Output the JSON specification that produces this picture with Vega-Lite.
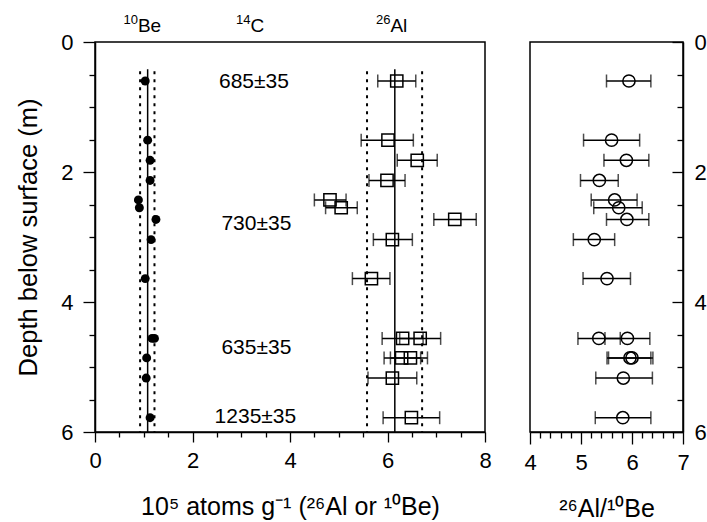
{
  "$schema": "https://vega.github.io/schema/vega-lite/v6.json",
  "padding": {"left": 16, "top": 13, "right": 0, "bottom": 0},
  "background": "white",
  "spacing": 31,
  "config": {
    "font": "Liberation Sans",
    "view": {"stroke": "black", "strokeWidth": 1.5},
    "axis": {
      "grid": false,
      "labelFont": "Liberation Sans",
      "titleFont": "Liberation Sans",
      "labelFontSize": 22,
      "titleFontSize": 25,
      "labelColor": "black",
      "titleColor": "black",
      "titleFontWeight": "normal",
      "domainColor": "black",
      "domainWidth": 1.5,
      "tickColor": "black",
      "tickWidth": 1.3,
      "labelOverlap": false,
      "labelFlush": false
    }
  },
  "datasets": {
    "be": [
      {"depth": 0.60, "be": 1.03},
      {"depth": 1.51, "be": 1.08},
      {"depth": 1.82, "be": 1.13},
      {"depth": 2.13, "be": 1.13},
      {"depth": 2.43, "be": 0.89},
      {"depth": 2.55, "be": 0.91},
      {"depth": 2.73, "be": 1.25},
      {"depth": 3.04, "be": 1.15},
      {"depth": 3.64, "be": 1.03},
      {"depth": 4.56, "be": 1.17},
      {"depth": 4.56, "be": 1.22},
      {"depth": 4.86, "be": 1.06},
      {"depth": 5.17, "be": 1.05},
      {"depth": 5.78, "be": 1.13}
    ],
    "al": [
      {"depth": 0.60, "al": 6.19, "lo": 5.80, "hi": 6.58},
      {"depth": 1.51, "al": 6.01, "lo": 5.46, "hi": 6.53},
      {"depth": 1.82, "al": 6.61, "lo": 6.20, "hi": 7.02},
      {"depth": 2.13, "al": 5.99, "lo": 5.62, "hi": 6.36},
      {"depth": 2.43, "al": 4.82, "lo": 4.50, "hi": 5.15},
      {"depth": 2.55, "al": 5.05, "lo": 4.73, "hi": 5.38},
      {"depth": 2.73, "al": 7.38, "lo": 6.95, "hi": 7.82},
      {"depth": 3.04, "al": 6.10, "lo": 5.71, "hi": 6.51},
      {"depth": 3.64, "al": 5.67, "lo": 5.28, "hi": 6.05},
      {"depth": 4.56, "al": 6.31, "lo": 5.89, "hi": 6.73},
      {"depth": 4.56, "al": 6.67, "lo": 6.25, "hi": 7.09},
      {"depth": 4.86, "al": 6.29, "lo": 5.93, "hi": 6.68},
      {"depth": 4.86, "al": 6.47, "lo": 6.06, "hi": 6.82},
      {"depth": 5.17, "al": 6.10, "lo": 5.60, "hi": 6.60},
      {"depth": 5.78, "al": 6.49, "lo": 5.91, "hi": 7.07}
    ],
    "ratio": [
      {"depth": 0.60, "r": 5.94, "lo": 5.50, "hi": 6.37},
      {"depth": 1.51, "r": 5.60, "lo": 5.05, "hi": 6.15},
      {"depth": 1.82, "r": 5.89, "lo": 5.45, "hi": 6.33},
      {"depth": 2.13, "r": 5.36, "lo": 4.99, "hi": 5.73},
      {"depth": 2.43, "r": 5.66, "lo": 5.20, "hi": 6.10},
      {"depth": 2.55, "r": 5.74, "lo": 5.25, "hi": 6.20},
      {"depth": 2.73, "r": 5.90, "lo": 5.50, "hi": 6.33},
      {"depth": 3.04, "r": 5.26, "lo": 4.85, "hi": 5.66},
      {"depth": 3.64, "r": 5.51, "lo": 5.04, "hi": 5.97},
      {"depth": 4.56, "r": 5.35, "lo": 4.94, "hi": 5.77},
      {"depth": 4.56, "r": 5.91, "lo": 5.47, "hi": 6.35},
      {"depth": 4.86, "r": 5.96, "lo": 5.51, "hi": 6.37},
      {"depth": 4.86, "r": 6.00, "lo": 5.54, "hi": 6.41},
      {"depth": 5.17, "r": 5.83, "lo": 5.29, "hi": 6.40},
      {"depth": 5.78, "r": 5.82, "lo": 5.28, "hi": 6.37}
    ],
    "lines": [
      {"x": 1.08, "depth": 0.42, "bottom": 6, "kind": "mean"},
      {"x": 0.925, "depth": 0.45, "bottom": 6, "kind": "sd"},
      {"x": 1.22, "depth": 0.45, "bottom": 6, "kind": "sd"},
      {"x": 6.15, "depth": 0.42, "bottom": 6, "kind": "mean"},
      {"x": 5.58, "depth": 0.45, "bottom": 6, "kind": "sd"},
      {"x": 6.71, "depth": 0.45, "bottom": 6, "kind": "sd"}
    ],
    "c14": [
      {"x": 3.26, "depth": 0.62, "label": "685±35"},
      {"x": 3.31, "depth": 2.80, "label": "730±35"},
      {"x": 3.31, "depth": 4.70, "label": "635±35"},
      {"x": 3.29, "depth": 5.77, "label": "1235±35"}
    ],
    "heads": [
      {"x": 0.88, "depth": -0.15, "mass": "10", "element": "Be"},
      {"x": 3.19, "depth": -0.15, "mass": "14", "element": "C"},
      {"x": 6.06, "depth": -0.15, "mass": "26", "element": "Al"}
    ]
  },
  "hconcat": [
    {
      "width": 390,
      "height": 390,
      "encoding": {
        "y": {
          "field": "depth", "type": "quantitative",
          "scale": {"domain": [0, 6], "nice": false, "zero": false, "reverse": true},
          "axis": {
            "title": "Depth below surface (m)",
            "titleFontSize": 25.5,
            "values": [0,0.5,1,1.5,2,2.5,3,3.5,4,4.5,5,5.5,6],
            "tickCount": 100,
            "tickMinStep": 0.1,
            "format": "d",
            "labelOverlap": false,
            "labelExpr": "datum.value % 2 === 0 ? datum.label : ''",
            "tickSize": {"condition": {"test": "datum.value % 2 === 0", "value": 12}, "value": 6},
            "labelPadding": 10,
            "titlePadding": 19
          }
        }
      },
      "layer": [
        {
          "data": {"name": "lines"},
          "mark": {"type": "rule", "color": "black"},
          "encoding": {
            "x": {"field": "x", "type": "quantitative", "scale": {"domain": [0, 8], "nice": false, "zero": false},
              "axis": {"title": "10⁵ atoms g⁻¹ (²⁶Al or ¹⁰Be)", "values": [0,0.5,1,1.5,2,2.5,3,3.5,4,4.5,5,5.5,6,6.5,7,7.5,8], "tickCount": 100, "tickMinStep": 0.1, "format": "d", "labelOverlap": false, "labelExpr": "datum.value % 2 === 0 ? datum.label : ''", "tickSize": {"condition": {"test": "datum.value % 2 === 0", "value": 10}, "value": 5}, "labelPadding": 8, "titlePadding": 23}},
            "y2": {"field": "bottom"},
            "strokeDash": {
              "field": "kind", "type": "nominal",
              "scale": {"domain": ["mean", "sd"], "range": [[1, 0], [3, 5]]},
              "legend": null
            },
            "strokeWidth": {
              "field": "kind", "type": "nominal",
              "scale": {"domain": ["mean", "sd"], "range": [1.5, 2]},
              "legend": null
            }
          }
        },
        {
          "data": {"name": "al"},
          "mark": {"type": "rule", "color": "black", "strokeWidth": 1.5},
          "encoding": {
            "x": {"field": "lo", "type": "quantitative", "scale": {"domain": [0, 8], "nice": false, "zero": false},
              "axis": {"title": "10⁵ atoms g⁻¹ (²⁶Al or ¹⁰Be)", "values": [0,0.5,1,1.5,2,2.5,3,3.5,4,4.5,5,5.5,6,6.5,7,7.5,8], "tickCount": 100, "tickMinStep": 0.1, "format": "d", "labelOverlap": false, "labelExpr": "datum.value % 2 === 0 ? datum.label : ''", "tickSize": {"condition": {"test": "datum.value % 2 === 0", "value": 10}, "value": 5}, "labelPadding": 8, "titlePadding": 23}},
            "x2": {"field": "hi"}
          }
        },
        {
          "data": {"name": "al"},
          "mark": {"type": "tick", "orient": "vertical", "color": "black", "size": 13, "thickness": 1.5},
          "encoding": {
            "x": {"field": "lo", "type": "quantitative", "scale": {"domain": [0, 8], "nice": false, "zero": false},
              "axis": {"title": "10⁵ atoms g⁻¹ (²⁶Al or ¹⁰Be)", "values": [0,0.5,1,1.5,2,2.5,3,3.5,4,4.5,5,5.5,6,6.5,7,7.5,8], "tickCount": 100, "tickMinStep": 0.1, "format": "d", "labelOverlap": false, "labelExpr": "datum.value % 2 === 0 ? datum.label : ''", "tickSize": {"condition": {"test": "datum.value % 2 === 0", "value": 10}, "value": 5}, "labelPadding": 8, "titlePadding": 23}}
          }
        },
        {
          "data": {"name": "al"},
          "mark": {"type": "tick", "orient": "vertical", "color": "black", "size": 13, "thickness": 1.5},
          "encoding": {
            "x": {"field": "hi", "type": "quantitative", "scale": {"domain": [0, 8], "nice": false, "zero": false},
              "axis": {"title": "10⁵ atoms g⁻¹ (²⁶Al or ¹⁰Be)", "values": [0,0.5,1,1.5,2,2.5,3,3.5,4,4.5,5,5.5,6,6.5,7,7.5,8], "tickCount": 100, "tickMinStep": 0.1, "format": "d", "labelOverlap": false, "labelExpr": "datum.value % 2 === 0 ? datum.label : ''", "tickSize": {"condition": {"test": "datum.value % 2 === 0", "value": 10}, "value": 5}, "labelPadding": 8, "titlePadding": 23}}
          }
        },
        {
          "data": {"name": "al"},
          "mark": {"type": "point", "shape": "square", "filled": false, "color": "black", "strokeWidth": 1.5, "size": 150, "opacity": 1},
          "encoding": {
            "x": {"field": "al", "type": "quantitative", "scale": {"domain": [0, 8], "nice": false, "zero": false},
              "axis": {"title": "10⁵ atoms g⁻¹ (²⁶Al or ¹⁰Be)", "values": [0,0.5,1,1.5,2,2.5,3,3.5,4,4.5,5,5.5,6,6.5,7,7.5,8], "tickCount": 100, "tickMinStep": 0.1, "format": "d", "labelOverlap": false, "labelExpr": "datum.value % 2 === 0 ? datum.label : ''", "tickSize": {"condition": {"test": "datum.value % 2 === 0", "value": 10}, "value": 5}, "labelPadding": 8, "titlePadding": 23}}
          }
        },
        {
          "data": {"name": "be"},
          "mark": {"type": "circle", "color": "black", "size": 80, "opacity": 1},
          "encoding": {
            "x": {"field": "be", "type": "quantitative", "scale": {"domain": [0, 8], "nice": false, "zero": false},
              "axis": {"title": "10⁵ atoms g⁻¹ (²⁶Al or ¹⁰Be)", "values": [0,0.5,1,1.5,2,2.5,3,3.5,4,4.5,5,5.5,6,6.5,7,7.5,8], "tickCount": 100, "tickMinStep": 0.1, "format": "d", "labelOverlap": false, "labelExpr": "datum.value % 2 === 0 ? datum.label : ''", "tickSize": {"condition": {"test": "datum.value % 2 === 0", "value": 10}, "value": 5}, "labelPadding": 8, "titlePadding": 23}}
          }
        },
        {
          "data": {"name": "c14"},
          "mark": {"type": "text", "font": "Liberation Sans", "fontSize": 21, "color": "black", "align": "center", "baseline": "middle"},
          "encoding": {
            "x": {"field": "x", "type": "quantitative", "scale": {"domain": [0, 8], "nice": false, "zero": false},
              "axis": {"title": "10⁵ atoms g⁻¹ (²⁶Al or ¹⁰Be)", "values": [0,0.5,1,1.5,2,2.5,3,3.5,4,4.5,5,5.5,6,6.5,7,7.5,8], "tickCount": 100, "tickMinStep": 0.1, "format": "d", "labelOverlap": false, "labelExpr": "datum.value % 2 === 0 ? datum.label : ''", "tickSize": {"condition": {"test": "datum.value % 2 === 0", "value": 10}, "value": 5}, "labelPadding": 8, "titlePadding": 23}},
            "text": {"field": "label"}
          }
        },
        {
          "data": {"name": "heads"},
          "mark": {"type": "text", "font": "Liberation Sans", "fontSize": 19, "color": "black", "align": "left", "baseline": "alphabetic"},
          "encoding": {
            "x": {"field": "x", "type": "quantitative", "scale": {"domain": [0, 8], "nice": false, "zero": false},
              "axis": {"title": "10⁵ atoms g⁻¹ (²⁶Al or ¹⁰Be)", "values": [0,0.5,1,1.5,2,2.5,3,3.5,4,4.5,5,5.5,6,6.5,7,7.5,8], "tickCount": 100, "tickMinStep": 0.1, "format": "d", "labelOverlap": false, "labelExpr": "datum.value % 2 === 0 ? datum.label : ''", "tickSize": {"condition": {"test": "datum.value % 2 === 0", "value": 10}, "value": 5}, "labelPadding": 8, "titlePadding": 23}},
            "text": {"field": "element"}
          }
        },
        {
          "data": {"name": "heads"},
          "mark": {"type": "text", "font": "Liberation Sans", "fontSize": 13, "color": "black", "align": "right", "baseline": "alphabetic", "dy": -8},
          "encoding": {
            "x": {"field": "x", "type": "quantitative", "scale": {"domain": [0, 8], "nice": false, "zero": false},
              "axis": {"title": "10⁵ atoms g⁻¹ (²⁶Al or ¹⁰Be)", "values": [0,0.5,1,1.5,2,2.5,3,3.5,4,4.5,5,5.5,6,6.5,7,7.5,8], "tickCount": 100, "tickMinStep": 0.1, "format": "d", "labelOverlap": false, "labelExpr": "datum.value % 2 === 0 ? datum.label : ''", "tickSize": {"condition": {"test": "datum.value % 2 === 0", "value": 10}, "value": 5}, "labelPadding": 8, "titlePadding": 23}},
            "text": {"field": "mass"}
          }
        }
      ]
    },
    {
      "width": 153,
      "height": 390,
      "data": {"name": "ratio"},
      "encoding": {
        "y": {
          "field": "depth", "type": "quantitative",
          "scale": {"domain": [0, 6], "nice": false, "zero": false, "reverse": true},
          "axis": {
            "orient": "right",
            "title": null,
            "values": [0,0.5,1,1.5,2,2.5,3,3.5,4,4.5,5,5.5,6],
            "tickCount": 100,
            "tickMinStep": 0.1,
            "format": "d",
            "labelOverlap": false,
            "labelExpr": "datum.value % 2 === 0 ? datum.label : ''",
            "tickSize": {"condition": {"test": "datum.value % 2 === 0", "value": -11}, "value": -6},
            "labelPadding": 22
          }
        }
      },
      "layer": [
        {
          "mark": {"type": "rule", "color": "black", "strokeWidth": 1.5},
          "encoding": {
            "x": {"field": "lo", "type": "quantitative", "scale": {"domain": [4, 7], "nice": false, "zero": false},
              "axis": {"title": "²⁶Al/¹⁰Be", "values": [4,4.2,4.4,4.6,4.8,5,5.2,5.4,5.6,5.8,6,6.2,6.4,6.6,6.8,7], "tickCount": 100, "tickMinStep": 0.1, "format": "d", "labelOverlap": false, "labelExpr": "datum.value % 1 === 0 ? datum.label : ''", "tickSize": {"condition": {"test": "datum.value % 1 === 0", "value": 12}, "value": 6}, "labelPadding": 8, "titlePadding": 23}},
            "x2": {"field": "hi"}
          }
        },
        {
          "mark": {"type": "tick", "orient": "vertical", "color": "black", "size": 13, "thickness": 1.5},
          "encoding": {
            "x": {"field": "lo", "type": "quantitative", "scale": {"domain": [4, 7], "nice": false, "zero": false},
              "axis": {"title": "²⁶Al/¹⁰Be", "values": [4,4.2,4.4,4.6,4.8,5,5.2,5.4,5.6,5.8,6,6.2,6.4,6.6,6.8,7], "tickCount": 100, "tickMinStep": 0.1, "format": "d", "labelOverlap": false, "labelExpr": "datum.value % 1 === 0 ? datum.label : ''", "tickSize": {"condition": {"test": "datum.value % 1 === 0", "value": 12}, "value": 6}, "labelPadding": 8, "titlePadding": 23}}
          }
        },
        {
          "mark": {"type": "tick", "orient": "vertical", "color": "black", "size": 13, "thickness": 1.5},
          "encoding": {
            "x": {"field": "hi", "type": "quantitative", "scale": {"domain": [4, 7], "nice": false, "zero": false},
              "axis": {"title": "²⁶Al/¹⁰Be", "values": [4,4.2,4.4,4.6,4.8,5,5.2,5.4,5.6,5.8,6,6.2,6.4,6.6,6.8,7], "tickCount": 100, "tickMinStep": 0.1, "format": "d", "labelOverlap": false, "labelExpr": "datum.value % 1 === 0 ? datum.label : ''", "tickSize": {"condition": {"test": "datum.value % 1 === 0", "value": 12}, "value": 6}, "labelPadding": 8, "titlePadding": 23}}
          }
        },
        {
          "mark": {"type": "point", "shape": "circle", "filled": false, "color": "black", "strokeWidth": 1.5, "size": 150, "opacity": 1},
          "encoding": {
            "x": {"field": "r", "type": "quantitative", "scale": {"domain": [4, 7], "nice": false, "zero": false},
              "axis": {"title": "²⁶Al/¹⁰Be", "values": [4,4.2,4.4,4.6,4.8,5,5.2,5.4,5.6,5.8,6,6.2,6.4,6.6,6.8,7], "tickCount": 100, "tickMinStep": 0.1, "format": "d", "labelOverlap": false, "labelExpr": "datum.value % 1 === 0 ? datum.label : ''", "tickSize": {"condition": {"test": "datum.value % 1 === 0", "value": 12}, "value": 6}, "labelPadding": 8, "titlePadding": 23}}
          }
        }
      ]
    }
  ]
}
